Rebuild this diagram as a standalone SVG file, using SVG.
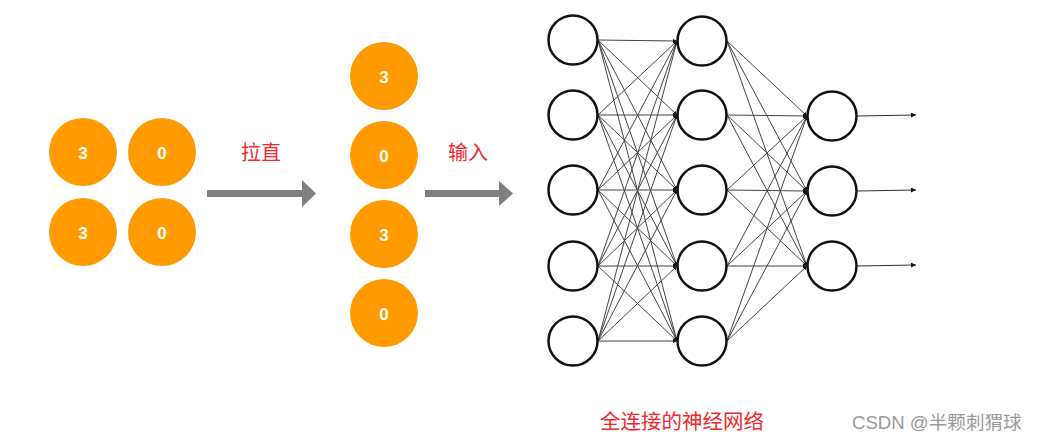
<svg xmlns="http://www.w3.org/2000/svg" width="1038" height="441" viewBox="0 0 1038 441">
<style>
.org{fill:#ff9b00}
.num{font-family:"Liberation Sans",Arial,sans-serif;font-size:17px;font-weight:bold;fill:#fff;text-anchor:middle;dominant-baseline:central}
.lbl{font-family:"Liberation Sans","Noto Sans CJK SC",sans-serif;font-size:20px;fill:#f0282d;text-anchor:middle;dominant-baseline:central}
.neu{fill:#fff;stroke:#111;stroke-width:2.5}
.c{stroke:#444;stroke-width:1;fill:none;marker-end:url(#ah)}
.o{stroke:#333;stroke-width:1.2;fill:none;marker-end:url(#oh)}
.big{fill:#7f7f7f}
</style>
<defs>
<marker id="ah" viewBox="0 0 10 10" refX="10" refY="5" markerWidth="4" markerHeight="4" orient="auto" markerUnits="userSpaceOnUse"><path d="M0,0 L10,5 L0,10 z" fill="#111"/></marker>
<marker id="oh" viewBox="0 0 10 10" refX="10" refY="5" markerWidth="7" markerHeight="5" orient="auto" markerUnits="userSpaceOnUse"><path d="M0,0 L10,5 L0,10 z" fill="#111"/></marker>
</defs>
<rect width="1038" height="441" fill="#fff"/>
<g id="grid">
<g id="g1"><circle class="org" cx="83" cy="152" r="34"/><text class="num" x="83" y="153">3</text></g>
<g id="g2"><circle class="org" cx="162" cy="152" r="34"/><text class="num" x="162" y="153">0</text></g>
<g id="g3"><circle class="org" cx="83" cy="232" r="34"/><text class="num" x="83" y="233">3</text></g>
<g id="g4"><circle class="org" cx="162" cy="232" r="34"/><text class="num" x="162" y="233">0</text></g>
</g>
<g id="arrow1"><rect class="big" x="207" y="190" width="96" height="7"/><path class="big" d="M302,180 L316,193.5 L302,207 z"/><text class="lbl" x="261" y="153">拉直</text></g>
<g id="column">
<g id="v1"><circle class="org" cx="384" cy="76" r="34"/><text class="num" x="384" y="77">3</text></g>
<g id="v2"><circle class="org" cx="384" cy="155" r="34"/><text class="num" x="384" y="156">0</text></g>
<g id="v3"><circle class="org" cx="384" cy="234" r="34"/><text class="num" x="384" y="235">3</text></g>
<g id="v4"><circle class="org" cx="384" cy="313" r="34"/><text class="num" x="384" y="314">0</text></g>
</g>
<g id="arrow2"><rect class="big" x="425" y="190" width="75" height="7"/><path class="big" d="M499,181 L513,193.5 L499,206 z"/><text class="lbl" x="468" y="153">输入</text></g>
<g id="connectors">
<line class="c" x1="598" y1="40" x2="677" y2="41"/><line class="c" x1="598" y1="40" x2="677" y2="115"/><line class="c" x1="598" y1="40" x2="677" y2="190"/><line class="c" x1="598" y1="40" x2="677" y2="266"/><line class="c" x1="598" y1="40" x2="677" y2="341"/>
<line class="c" x1="598" y1="115" x2="677" y2="41"/><line class="c" x1="598" y1="115" x2="677" y2="115"/><line class="c" x1="598" y1="115" x2="677" y2="190"/><line class="c" x1="598" y1="115" x2="677" y2="266"/><line class="c" x1="598" y1="115" x2="677" y2="341"/>
<line class="c" x1="598" y1="190" x2="677" y2="41"/><line class="c" x1="598" y1="190" x2="677" y2="115"/><line class="c" x1="598" y1="190" x2="677" y2="190"/><line class="c" x1="598" y1="190" x2="677" y2="266"/><line class="c" x1="598" y1="190" x2="677" y2="341"/>
<line class="c" x1="598" y1="266" x2="677" y2="41"/><line class="c" x1="598" y1="266" x2="677" y2="115"/><line class="c" x1="598" y1="266" x2="677" y2="190"/><line class="c" x1="598" y1="266" x2="677" y2="266"/><line class="c" x1="598" y1="266" x2="677" y2="341"/>
<line class="c" x1="598" y1="341" x2="677" y2="41"/><line class="c" x1="598" y1="341" x2="677" y2="115"/><line class="c" x1="598" y1="341" x2="677" y2="190"/><line class="c" x1="598" y1="341" x2="677" y2="266"/><line class="c" x1="598" y1="341" x2="677" y2="341"/>
<line class="c" x1="727" y1="41" x2="807" y2="116"/><line class="c" x1="727" y1="41" x2="807" y2="191"/><line class="c" x1="727" y1="41" x2="807" y2="266"/>
<line class="c" x1="727" y1="115" x2="807" y2="116"/><line class="c" x1="727" y1="115" x2="807" y2="191"/><line class="c" x1="727" y1="115" x2="807" y2="266"/>
<line class="c" x1="727" y1="190" x2="807" y2="116"/><line class="c" x1="727" y1="190" x2="807" y2="191"/><line class="c" x1="727" y1="190" x2="807" y2="266"/>
<line class="c" x1="727" y1="266" x2="807" y2="116"/><line class="c" x1="727" y1="266" x2="807" y2="191"/><line class="c" x1="727" y1="266" x2="807" y2="266"/>
<line class="c" x1="727" y1="341" x2="807" y2="116"/><line class="c" x1="727" y1="341" x2="807" y2="191"/><line class="c" x1="727" y1="341" x2="807" y2="266"/>
<line class="o" x1="857" y1="116" x2="916" y2="115"/><line class="o" x1="857" y1="191" x2="916" y2="190"/><line class="o" x1="857" y1="266" x2="916" y2="265"/>
</g>
<g id="input-layer">
<circle id="i1" class="neu" cx="573" cy="40" r="24.5"/><circle id="i2" class="neu" cx="573" cy="115" r="24.5"/><circle id="i3" class="neu" cx="573" cy="190" r="24.5"/><circle id="i4" class="neu" cx="573" cy="266" r="24.5"/><circle id="i5" class="neu" cx="573" cy="341" r="24.5"/>
</g>
<g id="hidden-layer">
<circle id="h1" class="neu" cx="702" cy="41" r="24.5"/><circle id="h2" class="neu" cx="702" cy="115" r="24.5"/><circle id="h3" class="neu" cx="702" cy="190" r="24.5"/><circle id="h4" class="neu" cx="702" cy="266" r="24.5"/><circle id="h5" class="neu" cx="702" cy="341" r="24.5"/>
</g>
<g id="output-layer">
<circle id="o1" class="neu" cx="832" cy="116" r="24.5"/><circle id="o2" class="neu" cx="832" cy="191" r="24.5"/><circle id="o3" class="neu" cx="832" cy="266" r="24.5"/>
</g>
<text class="lbl" x="682" y="421" style="font-size:20.5px">全连接的神经网络</text>
<text x="852" y="422" style="font-family:'Liberation Sans','Noto Sans CJK SC',sans-serif;font-size:18.6px;fill:#9a9a9a;dominant-baseline:central">CSDN @半颗刺猬球</text>
</svg>
